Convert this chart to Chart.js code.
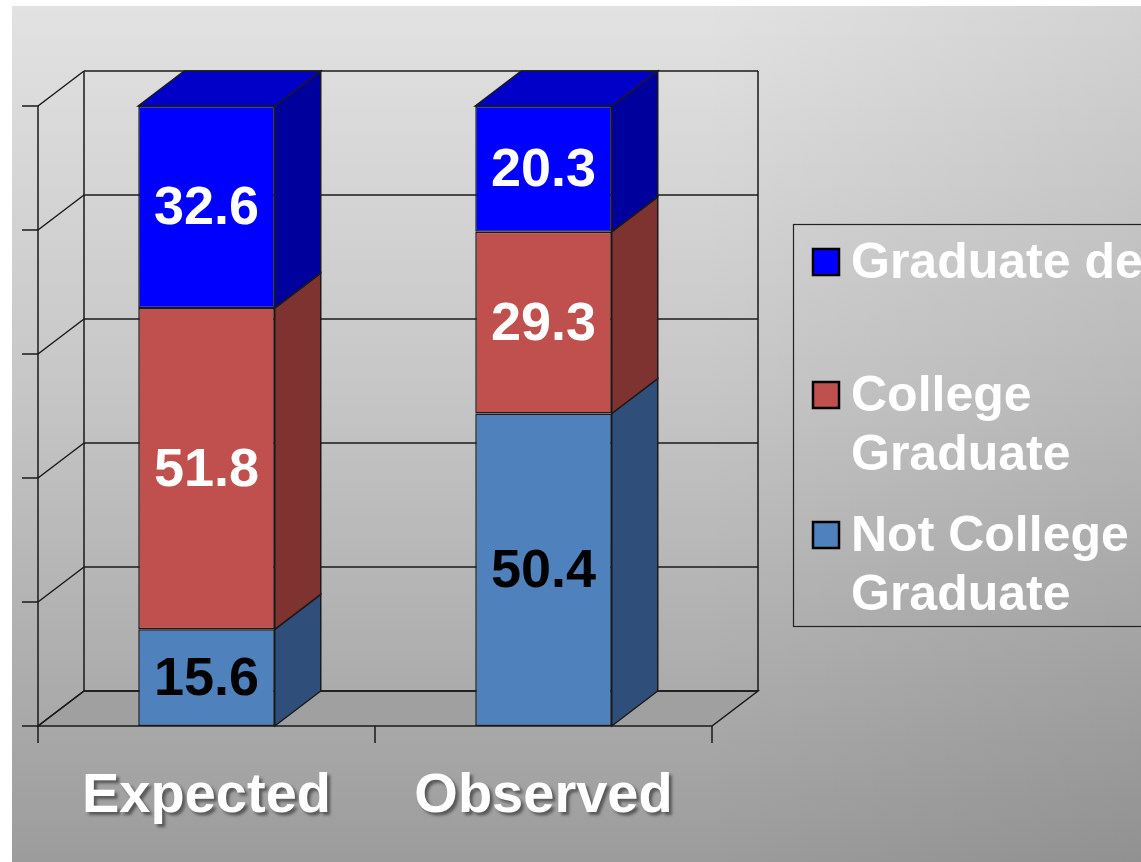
<!DOCTYPE html>
<html>
<head>
<meta charset="utf-8">
<script src="https://cdn.jsdelivr.net/npm/chart.js@4"></script>
<style>
  html, body { margin: 0; padding: 0; background: #fff; }
  #chart { display: block; }
</style>
</head>
<body>
<canvas id="chart" width="1141" height="862"></canvas>
<script>
// data
const categories = ['Expected', 'Observed'];
const notCollegeGrad = [15.6, 50.4];
const collegeGrad = [51.8, 29.3];
const graduateDegree = [32.6, 20.3];
const yTicks = [0, 20, 40, 60, 80, 100];

const seriesNames = ['Not College Graduate', 'College Graduate', 'Graduate degree'];
const legendLines = [['Not College', 'Graduate'], ['College', 'Graduate'], ['Graduate degree']];
const frontColors = ['#4f81bd', '#c0504d', '#0000ff'];
const sideColors = ['#2f4f7a', '#7e3330', '#00009c'];
const topColors = ['#3c6aa0', '#a04040', '#0000c8'];
const labelColors = ['#000', '#fff', '#fff'];

// 3d depth offset
const DX = 46, DY = -35;

const threeD = {
    id: 'threeD',
    beforeDraw(chart) {
        const c = chart.ctx;
        const W = chart.width, H = chart.height;
        c.save();
        const g = c.createLinearGradient(0, 6, 0, H);
        g.addColorStop(0, '#e2e2e2');
        g.addColorStop(0.45, '#c6c6c6');
        g.addColorStop(1, '#9c9c9c');
        c.fillStyle = g;
        c.fillRect(12, 6, W - 12, H - 6);
        // darker toward the right edge
        const g2 = c.createLinearGradient(700, 0, W, 0);
        g2.addColorStop(0, 'rgba(0,0,0,0)');
        g2.addColorStop(1, 'rgba(0,0,0,0.07)');
        c.fillStyle = g2;
        c.fillRect(700, 6, W - 700, H - 6);
        c.restore();
    },
    beforeDatasetsDraw(chart) {
        const c = chart.ctx;
        const { left, right, top, bottom } = chart.chartArea;
        const y = chart.scales.y;
        c.save();
        c.strokeStyle = '#1a1a1a';
        c.lineWidth = 1.5;

        // floor
        c.fillStyle = '#a0a0a0';
        c.beginPath();
        c.moveTo(left, bottom);
        c.lineTo(right, bottom);
        c.lineTo(right + DX, bottom + DY);
        c.lineTo(left + DX, bottom + DY);
        c.closePath();
        c.fill();
        c.stroke();

        // back wall gridlines + left wall diagonals
        yTicks.forEach(v => {
            const py = y.getPixelForValue(v);
            c.beginPath();
            c.moveTo(left + DX, py + DY);
            c.lineTo(right + DX, py + DY);
            c.stroke();
            c.beginPath();
            c.moveTo(left, py);
            c.lineTo(left + DX, py + DY);
            c.stroke();
            // tick mark
            c.beginPath();
            c.moveTo(left - 16, py);
            c.lineTo(left, py);
            c.stroke();
        });
        // wall verticals
        c.beginPath();
        c.moveTo(left + DX, top + DY);
        c.lineTo(left + DX, bottom + DY);
        c.moveTo(right + DX, top + DY);
        c.lineTo(right + DX, bottom + DY);
        c.moveTo(left, top);
        c.lineTo(left, bottom);
        c.stroke();

        // x ticks
        const step = (right - left) / categories.length;
        for (let i = 0; i <= categories.length; i++) {
            const px = left + i * step;
            c.beginPath();
            c.moveTo(px, bottom);
            c.lineTo(px, bottom + 17);
            c.stroke();
        }

        // side and top faces of bars
        const last = chart.data.datasets.length - 1;
        chart.data.datasets.forEach((ds, di) => {
            const meta = chart.getDatasetMeta(di);
            meta.data.forEach(bar => {
                const x2 = bar.x + bar.width / 2;
                const x1 = bar.x - bar.width / 2;
                const yt = Math.min(bar.y, bar.base);
                const yb = Math.max(bar.y, bar.base);
                c.fillStyle = sideColors[di];
                c.beginPath();
                c.moveTo(x2, yb);
                c.lineTo(x2 + DX, yb + DY);
                c.lineTo(x2 + DX, yt + DY);
                c.lineTo(x2, yt);
                c.closePath();
                c.fill();
                c.stroke();
                if (di === last) {
                    c.fillStyle = topColors[di];
                    c.beginPath();
                    c.moveTo(x1, yt);
                    c.lineTo(x2, yt);
                    c.lineTo(x2 + DX, yt + DY);
                    c.lineTo(x1 + DX, yt + DY);
                    c.closePath();
                    c.fill();
                    c.stroke();
                }
            });
        });
        c.restore();
    },
    afterDatasetsDraw(chart) {
        const c = chart.ctx;
        const { bottom } = chart.chartArea;
        c.save();
        c.textAlign = 'center';
        c.textBaseline = 'middle';
        // value labels
        c.font = 'bold 54px "Liberation Sans", Arial, sans-serif';
        chart.data.datasets.forEach((ds, di) => {
            const meta = chart.getDatasetMeta(di);
            meta.data.forEach((bar, i) => {
                c.fillStyle = labelColors[di];
                c.fillText(ds.data[i].toFixed(1), bar.x, (bar.y + bar.base) / 2 + 2);
            });
        });
        // category labels with shadow
        c.font = 'bold 56px "Liberation Sans", Arial, sans-serif';
        c.shadowColor = 'rgba(40,40,40,0.6)';
        c.shadowOffsetX = 3;
        c.shadowOffsetY = 3;
        c.shadowBlur = 3;
        c.fillStyle = '#fff';
        categories.forEach((lab, i) => {
            c.fillText(lab, chart.scales.x.getPixelForValue(i), bottom + 71);
        });
        c.restore();
    },
    afterDraw(chart) {
        const c = chart.ctx;
        c.save();
        // legend box
        c.strokeStyle = '#222';
        c.lineWidth = 1.2;
        c.strokeRect(793.5, 224.5, 420, 402);
        const rows = [[2, 262], [1, 395], [0, 535]];
        c.font = 'bold 50px "Liberation Sans", Arial, sans-serif';
        c.textBaseline = 'middle';
        c.textAlign = 'left';
        rows.forEach(([di, cy]) => {
            c.fillStyle = frontColors[di];
            c.fillRect(813, cy - 13, 26, 26);
            c.strokeStyle = '#000';
            c.lineWidth = 2.5;
            c.strokeRect(813, cy - 13, 26, 26);
            c.fillStyle = '#fff';
            legendLines[di].forEach((ln, k) => {
                c.fillText(ln, 851, cy + 2 + k * 59);
            });
        });
        c.restore();
    }
};

new Chart(document.getElementById('chart'), {
    type: 'bar',
    data: {
        labels: categories,
        datasets: [
            { label: seriesNames[0], data: notCollegeGrad, backgroundColor: frontColors[0] },
            { label: seriesNames[1], data: collegeGrad, backgroundColor: frontColors[1] },
            { label: seriesNames[2], data: graduateDegree, backgroundColor: frontColors[2] }
        ].map(d => Object.assign(d, {
            borderColor: '#1a1a1a',
            borderWidth: 1.5,
            borderSkipped: false,
            barPercentage: 0.405,
            categoryPercentage: 1
        }))
    },
    options: {
        responsive: false,
        animation: false,
        layout: { padding: { left: 38, right: 429, top: 106, bottom: 136 } },
        scales: {
            x: { stacked: true, display: false },
            y: { stacked: true, display: false, min: 0, max: 100 }
        },
        plugins: {
            legend: { display: false },
            tooltip: { enabled: false }
        }
    },
    plugins: [threeD]
});
</script>
</body>
</html>
